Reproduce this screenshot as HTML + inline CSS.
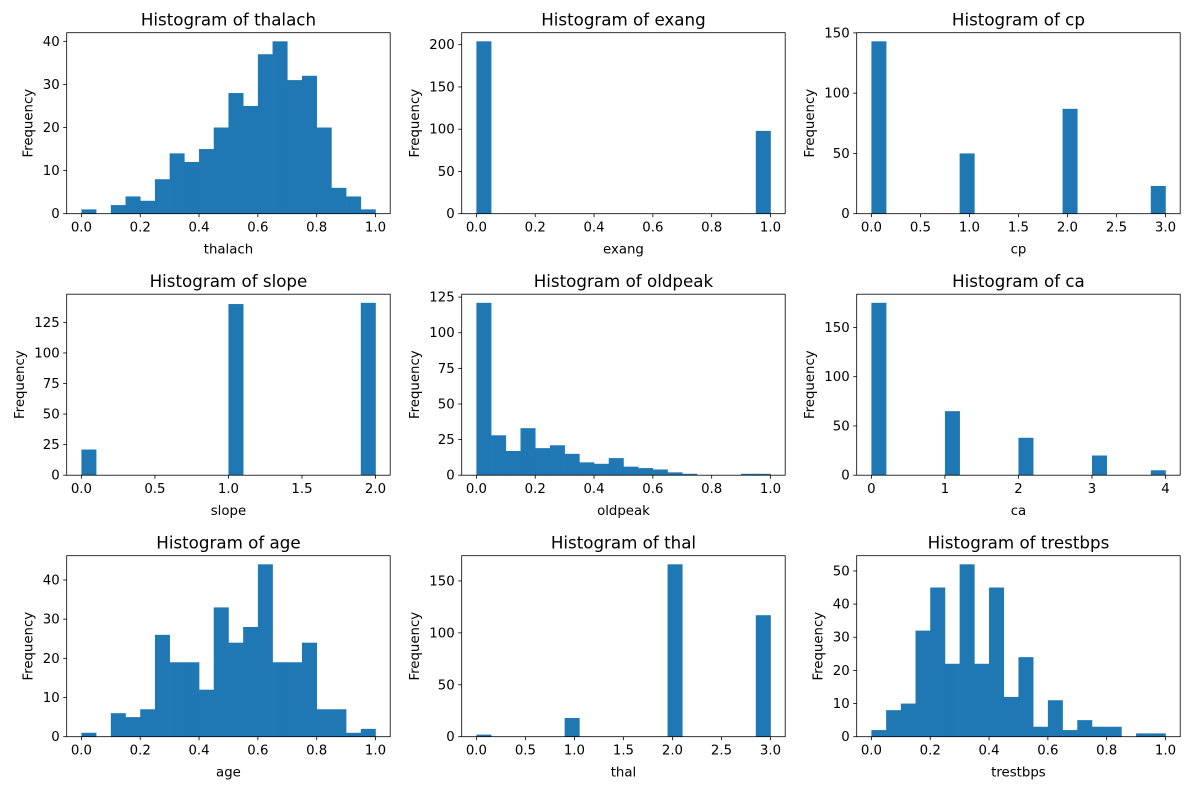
<!DOCTYPE html>
<html><head><meta charset="utf-8"><style>
body{margin:0;background:#fff;}
svg{display:block;font-family:"DejaVu Sans","Liberation Sans",sans-serif;}
</style></head><body>
<svg id="fig" width="1189" height="790" viewBox="0 0 1189 790"></svg>
<script>
const titles=["thalach","exang","cp","slope","oldpeak","ca","age","thal","trestbps"];
const xMins=[0,0,0,0,0,0,0,0,0];
const xMaxs=[1,1,3,2,1,4,1,3,1];
const thalachCounts=[1,0,2,4,3,8,14,12,15,20,28,25,37,40,31,32,20,6,4,1];
const exangCounts=[204,0,0,0,0,0,0,0,0,0,0,0,0,0,0,0,0,0,0,98];
const cpCounts=[143,0,0,0,0,0,50,0,0,0,0,0,0,87,0,0,0,0,0,23];
const slopeCounts=[21,0,0,0,0,0,0,0,0,0,140,0,0,0,0,0,0,0,0,141];
const oldpeakCounts=[121,28,17,33,19,21,15,9,8,12,6,5,4,2,1,0,0,0,1,1];
const caCounts=[175,0,0,0,0,65,0,0,0,0,38,0,0,0,0,20,0,0,0,5];
const ageCounts=[1,0,6,5,7,26,19,19,12,33,24,28,44,19,19,24,7,7,1,2];
const thalCounts=[2,0,0,0,0,0,18,0,0,0,0,0,0,166,0,0,0,0,0,117];
const trestbpsCounts=[2,8,10,32,45,22,52,22,45,12,24,3,11,2,5,3,3,0,1,1];
const allCounts=[thalachCounts,exangCounts,cpCounts,slopeCounts,oldpeakCounts,caCounts,ageCounts,thalCounts,trestbpsCounts];
const yTickSets=[[0,10,20,30,40],[0,50,100,150,200],[0,50,100,150],[0,25,50,75,100,125],[0,25,50,75,100,125],[0,50,100,150],[0,10,20,30,40],[0,50,100,150],[0,10,20,30,40,50]];
const xTickLabelSets=[
["0.0","0.2","0.4","0.6","0.8","1.0"],["0.0","0.2","0.4","0.6","0.8","1.0"],
["0.0","0.5","1.0","1.5","2.0","2.5","3.0"],["0.0","0.5","1.0","1.5","2.0"],
["0.0","0.2","0.4","0.6","0.8","1.0"],["0","1","2","3","4"],
["0.0","0.2","0.4","0.6","0.8","1.0"],["0.0","0.5","1.0","1.5","2.0","2.5","3.0"],
["0.0","0.2","0.4","0.6","0.8","1.0"]];
const NS="http://www.w3.org/2000/svg";
const svg=document.getElementById('fig');
function mk(tag,attrs,parent){const e=document.createElementNS(NS,tag);for(const k in attrs)e.setAttribute(k,attrs[k]);(parent||svg).appendChild(e);return e;}
const colX=[66.7,461.7,856.7], rowY=[32.7,294.2,555.7], W=323.5, H=181;
const FS=13.3;
titles.forEach((name,i)=>{
  const L=colX[i%3], T=rowY[Math.floor(i/3)], B=T+H;
  const g=mk('g',{});
  
  
  const counts=allCounts[i], lo=xMins[i], hi=xMaxs[i], n=counts.length, bw=(hi-lo)/n;
  const pad=(hi-lo)*0.05;
  const xs=v=>L+(v-(lo-pad))/((hi-lo)+2*pad)*W;
  const ymax=Math.max(...counts)*1.05;
  const ys=v=>B-v/ymax*H;
  counts.forEach((c,k)=>{
    if(c<=0)return;
    const x0=xs(lo+k*bw), x1=xs(lo+(k+1)*bw);
    const r=mk('rect',{x:x0,y:ys(c),width:x1-x0+0.3,height:B-ys(c),fill:'#1f77b4'},g);
    
    
  });
  const fr=mk('rect',{x:L,y:T,width:W,height:H,fill:'none',stroke:'#000','stroke-width':0.8},g);
  
  
  yTickSets[i].forEach(v=>{
    const y=ys(v);
    mk('line',{x1:L-3.5,x2:L,y1:y,y2:y,stroke:'#000','stroke-width':0.8},g);
    const t=mk('text',{x:L-7,y:y+4.5,'text-anchor':'end','font-size':FS,fill:'#000'},g);
    t.textContent=v;
    
    
  });
  const labs=xTickLabelSets[i];
  labs.forEach(s=>{
    const x=xs(parseFloat(s));
    mk('line',{x1:x,x2:x,y1:B,y2:B+3.5,stroke:'#000','stroke-width':0.8},g);
    const t=mk('text',{x:x,y:B+18,'text-anchor':'middle','font-size':FS,fill:'#000'},g);
    t.textContent=s;
    
    
  });
  const xt=mk('text',{x:L+W/2,y:B+40,'text-anchor':'middle','font-size':FS},g);
  xt.textContent=name;
  
  
  const maxLab=Math.max(...yTickSets[i].map(v=>String(v).length));
  const yx=L-10-maxLab*8.5-7;
  const yt=mk('text',{x:yx,y:T+H/2,'text-anchor':'middle','font-size':FS,transform:`rotate(-90 ${yx} ${T+H/2})`},g);
  yt.textContent='Frequency';
  
  
  const tt=mk('text',{x:L+W/2,y:T-7,'text-anchor':'middle','font-size':16.7},g);
  tt.textContent='Histogram of '+name;
  
  
});
</script>
</body></html>
